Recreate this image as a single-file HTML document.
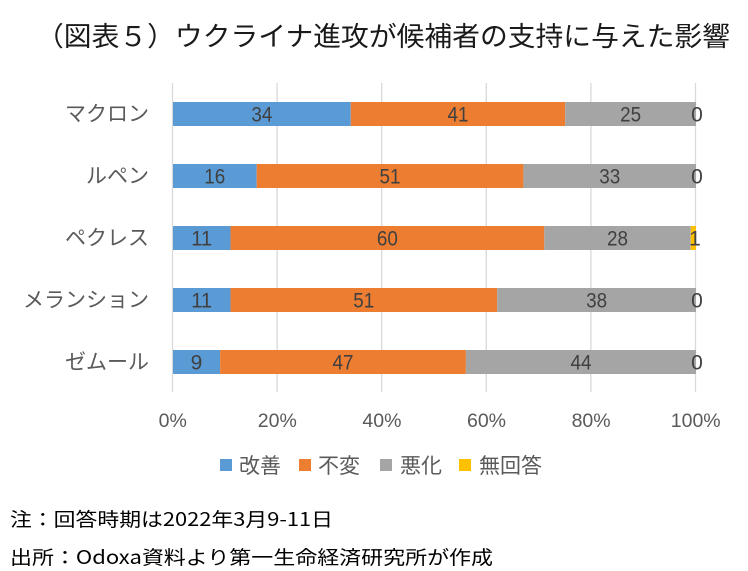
<!DOCTYPE html>
<html><head><meta charset="utf-8"><style>
html,body{margin:0;padding:0;background:#fff;}
svg{display:block;}
text{font-family:"Liberation Sans","Noto Sans CJK JP",sans-serif;}
.jp{font-family:"Noto Sans CJK JP","Liberation Sans",sans-serif;}
</style></head><body>
<svg width="748" height="571" viewBox="0 0 748 571" xmlns="http://www.w3.org/2000/svg">
<rect width="748" height="571" fill="#fff"/>
<text class="jp" x="36" y="46" font-size="27" fill="#1a1a1a" textLength="694" lengthAdjust="spacingAndGlyphs">（図表５）ウクライナ進攻が候補者の支持に与えた影響</text>
<g stroke="#D9D9D9" stroke-width="1.3">
<line x1="172.5" y1="83" x2="172.5" y2="392"/>
<line x1="277.1" y1="83" x2="277.1" y2="392"/>
<line x1="381.7" y1="83" x2="381.7" y2="392"/>
<line x1="486.3" y1="83" x2="486.3" y2="392"/>
<line x1="590.9" y1="83" x2="590.9" y2="392"/>
<line x1="695.5" y1="83" x2="695.5" y2="392"/>
</g>
<!-- Row 1 -->
<rect x="173" y="102" width="177.8" height="24" fill="#5B9BD5"/>
<rect x="350.8" y="102" width="214.4" height="24" fill="#ED7D31"/>
<rect x="565.2" y="102" width="130.8" height="24" fill="#A5A5A5"/>
<!-- Row 2 -->
<rect x="173" y="164" width="83.7" height="24" fill="#5B9BD5"/>
<rect x="256.7" y="164" width="266.7" height="24" fill="#ED7D31"/>
<rect x="523.4" y="164" width="172.6" height="24" fill="#A5A5A5"/>
<!-- Row 3 -->
<rect x="173" y="226" width="57.5" height="24" fill="#5B9BD5"/>
<rect x="230.5" y="226" width="313.8" height="24" fill="#ED7D31"/>
<rect x="544.3" y="226" width="146.5" height="24" fill="#A5A5A5"/>
<rect x="690.8" y="226" width="5.2" height="24" fill="#FFC000"/>
<!-- Row 4 -->
<rect x="173" y="288" width="57.5" height="24" fill="#5B9BD5"/>
<rect x="230.5" y="288" width="266.7" height="24" fill="#ED7D31"/>
<rect x="497.2" y="288" width="198.8" height="24" fill="#A5A5A5"/>
<!-- Row 5 -->
<rect x="173" y="350" width="47.1" height="24" fill="#5B9BD5"/>
<rect x="220.1" y="350" width="245.8" height="24" fill="#ED7D31"/>
<rect x="465.9" y="350" width="230.1" height="24" fill="#A5A5A5"/>

<g font-size="21" fill="#404040" text-anchor="middle">
<text x="261.9" y="121.5" textLength="21" lengthAdjust="spacingAndGlyphs">34</text><text x="458" y="121.5" textLength="21" lengthAdjust="spacingAndGlyphs">41</text><text x="630.6" y="121.5" textLength="21" lengthAdjust="spacingAndGlyphs">25</text><text x="697" y="121.5">0</text>
<text x="214.8" y="183.5" textLength="21" lengthAdjust="spacingAndGlyphs">16</text><text x="390" y="183.5" textLength="21" lengthAdjust="spacingAndGlyphs">51</text><text x="609.7" y="183.5" textLength="21" lengthAdjust="spacingAndGlyphs">33</text><text x="697" y="183.5">0</text>
<text x="201.7" y="245.5" textLength="21" lengthAdjust="spacingAndGlyphs">11</text><text x="387.4" y="245.5" textLength="21" lengthAdjust="spacingAndGlyphs">60</text><text x="617.5" y="245.5" textLength="21" lengthAdjust="spacingAndGlyphs">28</text><text x="695" y="245.5">1</text>
<text x="201.7" y="307.5" textLength="21" lengthAdjust="spacingAndGlyphs">11</text><text x="363.8" y="307.5" textLength="21" lengthAdjust="spacingAndGlyphs">51</text><text x="596.6" y="307.5" textLength="21" lengthAdjust="spacingAndGlyphs">38</text><text x="697" y="307.5">0</text>
<text x="196.5" y="369.5">9</text><text x="343" y="369.5" textLength="21" lengthAdjust="spacingAndGlyphs">47</text><text x="581" y="369.5" textLength="21" lengthAdjust="spacingAndGlyphs">44</text><text x="697" y="369.5">0</text>
</g>

<g class="jp" font-size="21" fill="#5a5a5a" text-anchor="end">
<text class="jp" x="149" y="121">マクロン</text>
<text class="jp" x="149" y="183">ルペン</text>
<text class="jp" x="149" y="245">ペクレス</text>
<text class="jp" x="149" y="307">メランション</text>
<text class="jp" x="149" y="369">ゼムール</text>
</g>

<g font-size="19.5" fill="#595959" text-anchor="middle">
<text x="172.7" y="427">0%</text>
<text x="277.3" y="427">20%</text>
<text x="381.9" y="427">40%</text>
<text x="486.5" y="427">60%</text>
<text x="591.1" y="427">80%</text>
<text x="695.7" y="427">100%</text>
</g>

<rect x="220" y="459" width="12" height="12" fill="#5B9BD5"/>
<text class="jp" x="239" y="473" font-size="21" fill="#5a5a5a">改善</text>
<rect x="299" y="459" width="12" height="12" fill="#ED7D31"/>
<text class="jp" x="318" y="473" font-size="21" fill="#5a5a5a">不変</text>
<rect x="380" y="459" width="12" height="12" fill="#A5A5A5"/>
<text class="jp" x="400" y="473" font-size="21" fill="#5a5a5a">悪化</text>
<rect x="459" y="459" width="12" height="12" fill="#FFC000"/>
<text class="jp" x="479" y="473" font-size="21" fill="#5a5a5a">無回答</text>

<text class="jp" x="10" y="526" font-size="19" fill="#000" textLength="323" lengthAdjust="spacingAndGlyphs">注：回答時期は2022年3月9-11日</text>
<text class="jp" x="10" y="564" font-size="19" fill="#000" textLength="483" lengthAdjust="spacingAndGlyphs">出所：Odoxa資料より第一生命経済研究所が作成</text>
</svg>
</body></html>
